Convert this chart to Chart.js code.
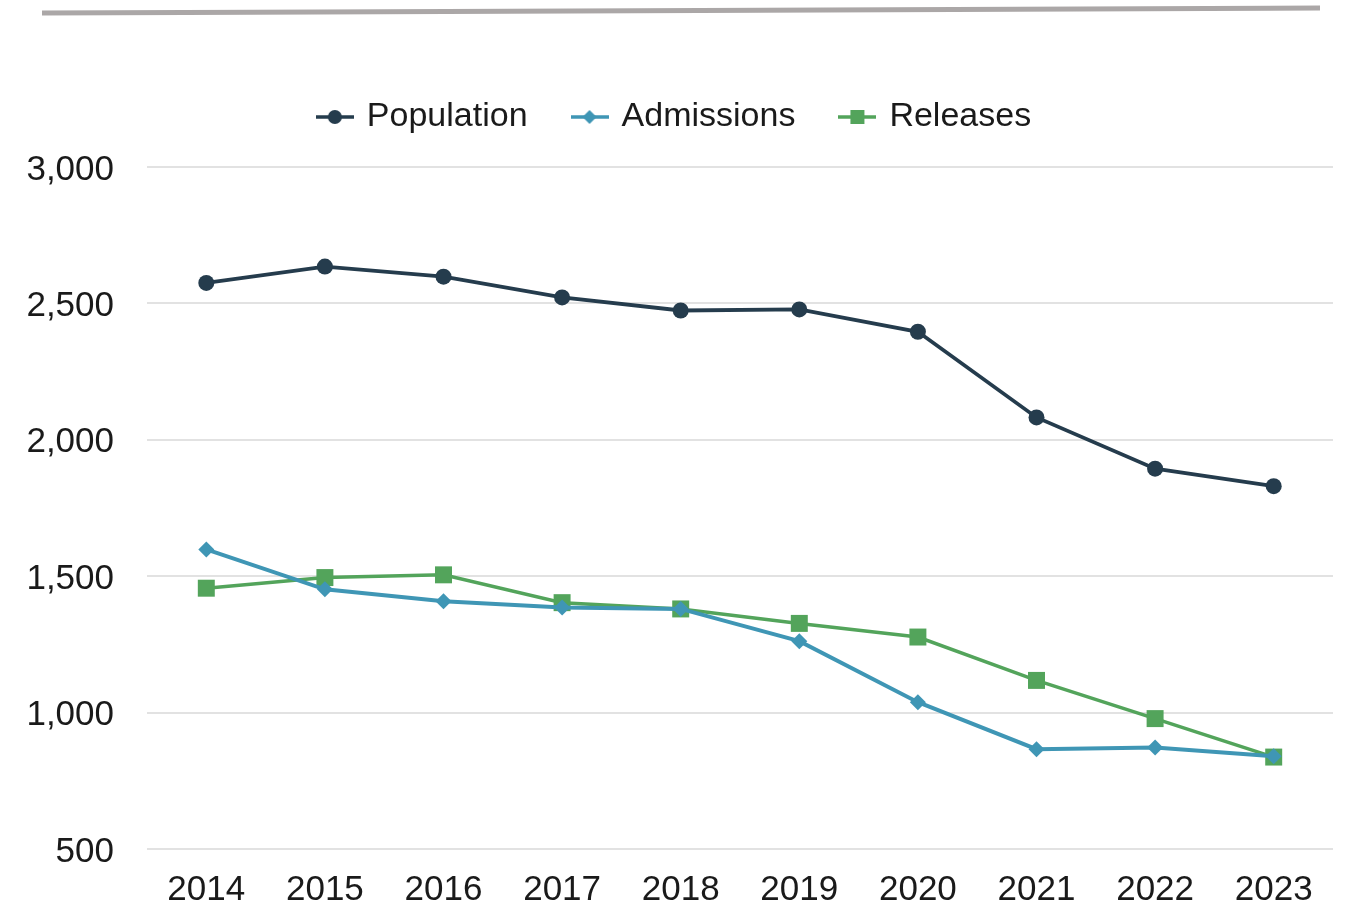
<!DOCTYPE html>
<html>
<head>
<meta charset="utf-8">
<script src="https://cdn.jsdelivr.net/npm/chart.js@4/dist/chart.umd.min.js"></script>
<style>
  body { margin: 0; background: #fff; }
  #wrap { position: relative; width: 1345px; height: 903px; }
  #rule { position: absolute; left: 42px; top: 8px; width: 1278px; height: 5px; background: #aba7a7; transform: rotate(-0.22deg); }
  #chart { position: absolute; left: 0; top: 0; }
</style>
</head>
<body>
<div id="wrap">
  <div id="rule"></div>
  <canvas id="chart" width="1345" height="903"></canvas>
</div>
<script>
    // yearly counts
    const years = ['2014', '2015', '2016', '2017', '2018', '2019', '2020', '2021', '2022', '2023'];
    const population = [2575, 2635, 2598, 2522, 2474, 2478, 2396, 2082, 1894, 1830];
    const admissions = [1598, 1452, 1408, 1385, 1380, 1262, 1038, 866, 872, 840];
    const releases = [1456, 1495, 1505, 1403, 1380, 1327, 1277, 1118, 978, 837];
    const yTicks = [500, 1000, 1500, 2000, 2500, 3000];

    const navy = '#253c4d';
    const teal = '#3f96b5';
    const green = '#53a45b';

    //legend icon: short line with the marker on top
    function legendIcon(color, shape) {
        let c = document.createElement('canvas');
        c.width = 38;
        c.height = 20;
        let g = c.getContext('2d');
        g.strokeStyle = color;
        g.fillStyle = color;
        g.lineWidth = 3.5;
        g.beginPath();
        g.moveTo(0, 10);
        g.lineTo(38, 10);
        g.stroke();
        g.beginPath();
        if (shape === 'circle') {
            g.arc(19, 10, 7, 0, Math.PI * 2);
        } else if (shape === 'diamond') {
            g.moveTo(19, 3); g.lineTo(26, 10); g.lineTo(19, 17); g.lineTo(12, 10);
            g.closePath();
        } else {
            g.rect(12, 3, 14, 14);
        }
        g.fill();
        return c;
    }
    const icons = [legendIcon(navy, 'circle'), legendIcon(teal, 'diamond'), legendIcon(green, 'square')];

    //push the plot down below the legend
    const legendGap = {
        id: 'legendGap',
        beforeInit(chart) {
            const fit = chart.legend.fit;
            chart.legend.fit = function () {
                fit.bind(chart.legend)();
                this.height += 23;
            };
        }
    };

    let ctx = document.getElementById('chart').getContext('2d');
    new Chart(ctx, {
        type: 'line',
        data: {
            labels: years,
            datasets: [{
                label: 'Population',
                data: population,
                borderColor: navy,
                backgroundColor: navy,
                borderWidth: 3.8,
                pointStyle: 'circle',
                pointRadius: 8,
                pointBorderWidth: 0
            }, {
                label: 'Admissions',
                data: admissions,
                borderColor: teal,
                backgroundColor: teal,
                borderWidth: 4,
                pointStyle: 'rectRot',
                pointRadius: 8,
                pointBorderWidth: 0
            }, {
                label: 'Releases',
                data: releases,
                borderColor: green,
                backgroundColor: green,
                borderWidth: 3.5,
                pointStyle: 'rect',
                pointRadius: 12,
                pointBorderWidth: 0
            }]
        },
        options: {
            responsive: false,
            animation: false,
            layout: { padding: { top: 53, left: 18, right: 12, bottom: 0 } },
            plugins: {
                tooltip: { enabled: false },
                legend: {
                    position: 'top',
                    labels: {
                        usePointStyle: true,
                        pointStyleWidth: 30,
                        padding: 47,
                        color: '#1a1a1a',
                        font: { family: 'Liberation Sans', size: 34 },
                        generateLabels: function (chart) {
                            return chart.data.datasets.map(function (ds, i) {
                                return {
                                    text: ds.label,
                                    pointStyle: icons[i],
                                    fillStyle: ds.borderColor,
                                    strokeStyle: 'transparent',
                                    lineWidth: 0,
                                    fontColor: '#1a1a1a',
                                    hidden: false,
                                    datasetIndex: i
                                };
                            });
                        }
                    }
                }
            },
            scales: {
                x: {
                    offset: true,
                    grid: { display: false },
                    border: { display: false },
                    afterFit: function (scale) {
                        scale.height = 53;
                    },
                    ticks: {
                        color: '#1a1a1a',
                        padding: 12,
                        maxRotation: 0,
                        font: { family: 'Liberation Sans', size: 35 }
                    }
                },
                y: {
                    min: 500,
                    max: 3000,
                    afterBuildTicks: function (scale) {
                        scale.ticks = yTicks.map(function (v) { return { value: v }; });
                    },
                    afterFit: function (scale) {
                        scale.width = 129;
                    },
                    grid: { color: '#e2e2e2', lineWidth: 2, drawTicks: false },
                    border: { display: false },
                    ticks: {
                        color: '#1a1a1a',
                        padding: 33,
                        labelOffset: 3,
                        font: { family: 'Liberation Sans', size: 35 },
                        callback: function (v) { return v.toLocaleString('en-US'); }
                    }
                }
            }
        },
        plugins: [legendGap]
    });
</script>
</body>
</html>
